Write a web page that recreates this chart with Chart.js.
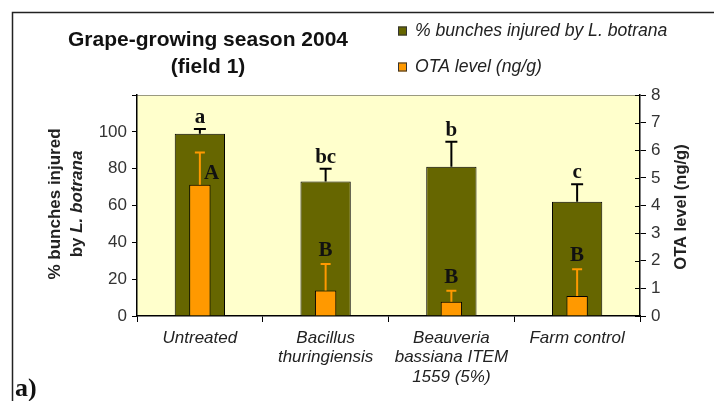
<!DOCTYPE html>
<html>
<head>
<meta charset="utf-8">
<style>
  html, body { margin: 0; padding: 0; background: #fff; }
  #wrap { width: 714px; height: 401px; position: relative; }
</style>
<script src="https://cdn.jsdelivr.net/npm/chart.js@4/dist/chart.umd.min.js"></script>
</head>
<body>
<div id="wrap"><canvas id="c" width="714" height="401"></canvas></div>
<script>
// ---- data ----
const categories = [
  ['Untreated'],
  ['Bacillus', 'thuringiensis'],
  ['Beauveria', 'bassiana ITEM', '1559 (5%)'],
  ['Farm control']
];
const bunchesInjured = [99, 73, 81, 62];
const bunchesErr = [2.5, 7, 13.6, 9.6];
const bunchesLetters = ['a', 'bc', 'b', 'c'];
const otaLevel = [4.75, 0.92, 0.52, 0.72];
const otaErr = [1.17, 0.96, 0.39, 0.97];
const otaLetters = ['A', 'B', 'B', 'B'];
const leftTicks = [0, 20, 40, 60, 80, 100, 120];
const rightTicks = [0, 1, 2, 3, 4, 5, 6, 7, 8];

const GREEN = '#666600';
const ORANGE = '#FF9900';
const SANS = '"Liberation Sans", Arial, sans-serif';
const SERIF = '"Liberation Serif", "Times New Roman", serif';

const overlay = {
  id: 'overlay',
  beforeDraw(chart) {
    const { ctx, chartArea: a } = chart;
    ctx.save();
    ctx.fillStyle = '#FFFFCC';
    ctx.fillRect(a.left, a.top, a.right - a.left, a.bottom - a.top);
    ctx.strokeStyle = '#9a9a80';
    ctx.lineWidth = 1;
    ctx.beginPath();
    ctx.moveTo(a.left, a.top + 0.5);
    ctx.lineTo(a.right, a.top + 0.5);
    ctx.stroke();
    ctx.restore();
  },
  afterDatasetsDraw(chart, args, opts) {
    const { ctx } = chart;
    const yL = chart.scales.y, yR = chart.scales.y1;
    const metaO = chart.getDatasetMeta(0);
    const metaG = chart.getDatasetMeta(1);
    ctx.save();
    // green error bars + letters
    metaG.data.forEach((bar, i) => {
      const top = yL.getPixelForValue(bunchesInjured[i] + bunchesErr[i]);
      ctx.strokeStyle = '#000';
      ctx.lineWidth = 2;
      ctx.beginPath();
      ctx.moveTo(bar.x, bar.y);
      ctx.lineTo(bar.x, top);
      ctx.moveTo(bar.x - 6, top);
      ctx.lineTo(bar.x + 6, top);
      ctx.stroke();
      ctx.fillStyle = '#111';
      ctx.font = 'bold 21px ' + SERIF;
      ctx.textAlign = 'center';
      ctx.textBaseline = 'alphabetic';
      ctx.fillText(bunchesLetters[i], bar.x, top - 6);
    });
    // orange error bars + letters
    metaO.data.forEach((bar, i) => {
      const top = yR.getPixelForValue(otaLevel[i] + otaErr[i]);
      ctx.strokeStyle = ORANGE;
      ctx.lineWidth = 2;
      ctx.beginPath();
      ctx.moveTo(bar.x, bar.y);
      ctx.lineTo(bar.x, top);
      ctx.moveTo(bar.x - 5, top);
      ctx.lineTo(bar.x + 5, top);
      ctx.stroke();
      ctx.fillStyle = '#111';
      ctx.font = 'bold 21px ' + SERIF;
      ctx.textBaseline = 'alphabetic';
      if (opts.otaLetterSide[i]) {
        ctx.textAlign = 'left';
        ctx.fillText(otaLetters[i], bar.x + 4, bar.y - 6);
      } else {
        ctx.textAlign = 'center';
        ctx.fillText(otaLetters[i], bar.x, top - 8);
      }
    });
    ctx.restore();
  },
  afterDraw(chart) {
    const { ctx, chartArea: a } = chart;
    const yR = chart.scales.y1;
    ctx.save();
    // inner ticks on right axis
    ctx.strokeStyle = '#000';
    ctx.lineWidth = 1;
    ctx.beginPath();
    rightTicks.forEach(v => {
      const py = Math.round(yR.getPixelForValue(v)) + 0.5;
      ctx.moveTo(a.right - 5, py);
      ctx.lineTo(a.right, py);
    });
    ctx.stroke();

    // outer frame
    ctx.strokeStyle = '#222';
    ctx.lineWidth = 1.5;
    ctx.beginPath();
    ctx.moveTo(12.5, 401);
    ctx.lineTo(12.5, 12.5);
    ctx.lineTo(714, 12.5);
    ctx.stroke();

    // title
    ctx.fillStyle = '#111';
    ctx.textAlign = 'center';
    ctx.textBaseline = 'middle';
    ctx.font = 'bold 21px ' + SANS;
    ctx.fillText('Grape-growing season 2004', 208, 40);
    ctx.fillText('(field 1)', 208, 67);

    // legend
    const legend = [
      { c: GREEN, t: '% bunches injured by L. botrana', y: 31 },
      { c: ORANGE, t: 'OTA level (ng/g)', y: 67 }
    ];
    legend.forEach(l => {
      ctx.fillStyle = l.c;
      ctx.fillRect(398, l.y - 4.5, 9, 9);
      ctx.strokeStyle = '#333';
      ctx.lineWidth = 1;
      ctx.strokeRect(398.5, l.y - 4, 8, 8);
      ctx.fillStyle = '#222';
      ctx.textAlign = 'left';
      ctx.font = 'italic 17.6px ' + SANS;
      ctx.fillText(l.t, 415, l.y);
    });

    // left axis title (rotated)
    ctx.save();
    ctx.translate(55, 204);
    ctx.rotate(-Math.PI / 2);
    ctx.textAlign = 'center';
    ctx.textBaseline = 'middle';
    ctx.fillStyle = '#222';
    ctx.font = 'bold 17px ' + SANS;
    ctx.fillText('% bunches injured', 0, 0);
    const p1 = 'by ';
    const p2 = 'L. botrana';
    ctx.font = 'bold 17px ' + SANS;
    const w1 = ctx.measureText(p1).width;
    ctx.font = 'bold italic 17px ' + SANS;
    const w2 = ctx.measureText(p2).width;
    const start = -(w1 + w2) / 2;
    ctx.textAlign = 'left';
    ctx.font = 'bold 17px ' + SANS;
    ctx.fillText(p1, start, 22);
    ctx.font = 'bold italic 17px ' + SANS;
    ctx.fillText(p2, start + w1, 22);
    ctx.restore();

    // right axis title
    ctx.save();
    ctx.translate(681, 207);
    ctx.rotate(-Math.PI / 2);
    ctx.textAlign = 'center';
    ctx.textBaseline = 'middle';
    ctx.fillStyle = '#222';
    ctx.font = 'bold 16.5px ' + SANS;
    ctx.fillText('OTA level (ng/g)', 0, 0);
    ctx.restore();

    // panel label
    ctx.fillStyle = '#111';
    ctx.textAlign = 'left';
    ctx.textBaseline = 'alphabetic';
    ctx.font = 'bold 26px ' + SERIF;
    ctx.fillText('a)', 15, 396);
    ctx.restore();
  }
};

new Chart(document.getElementById('c'), {
  type: 'bar',
  data: {
    labels: categories,
    datasets: [
      {
        label: 'OTA level (ng/g)',
        data: otaLevel,
        yAxisID: 'y1',
        backgroundColor: ORANGE,
        borderColor: '#000',
        borderWidth: 1,
        barPercentage: 0.17,
        categoryPercentage: 1,
        grouped: false,
        order: 0
      },
      {
        label: '% bunches injured by L. botrana',
        data: bunchesInjured,
        yAxisID: 'y',
        backgroundColor: GREEN,
        borderColor: '#000',
        borderWidth: 1,
        barPercentage: 0.4,
        categoryPercentage: 1,
        grouped: false,
        order: 1
      }
    ]
  },
  options: {
    responsive: false,
    animation: false,
    devicePixelRatio: 1,
    layout: { padding: { top: 95, left: 0, right: 0, bottom: 0 } },
    plugins: {
      legend: { display: false },
      title: { display: false },
      tooltip: { enabled: false },
      overlay: { otaLetterSide: [true, false, false, false] }
    },
    scales: {
      x: {
        offset: true,
        grid: { display: true, drawOnChartArea: false, tickLength: 6, color: '#000', offset: true },
        border: { color: '#000', width: 1.5 },
        ticks: {
          color: '#222',
          padding: 6,
          maxRotation: 0,
          font: { family: SANS, size: 17, style: 'italic', lineHeight: 1.15 }
        },
        afterFit(s) { s.height = 85; }
      },
      y: {
        position: 'left',
        min: 0,
        max: 120,
        afterBuildTicks(s) { s.ticks = leftTicks.map(v => ({ value: v })); },
        grid: { display: true, drawOnChartArea: false, tickLength: 5, color: '#000' },
        border: { color: '#000', width: 1.5 },
        ticks: {
          color: '#333',
          padding: 5,
          font: { family: SANS, size: 17 },
          callback: v => (v === 120 ? '' : v)
        },
        afterFit(s) { s.width = 137; }
      },
      y1: {
        position: 'right',
        min: 0,
        max: 8,
        afterBuildTicks(s) { s.ticks = rightTicks.map(v => ({ value: v })); },
        grid: { display: true, drawOnChartArea: false, tickLength: 6, color: '#000' },
        border: { color: '#000', width: 1.5 },
        ticks: {
          color: '#333',
          padding: 5,
          font: { family: SANS, size: 17 }
        },
        afterFit(s) { s.width = 74; }
      }
    }
  },
  plugins: [overlay]
});
</script>
</body>
</html>
